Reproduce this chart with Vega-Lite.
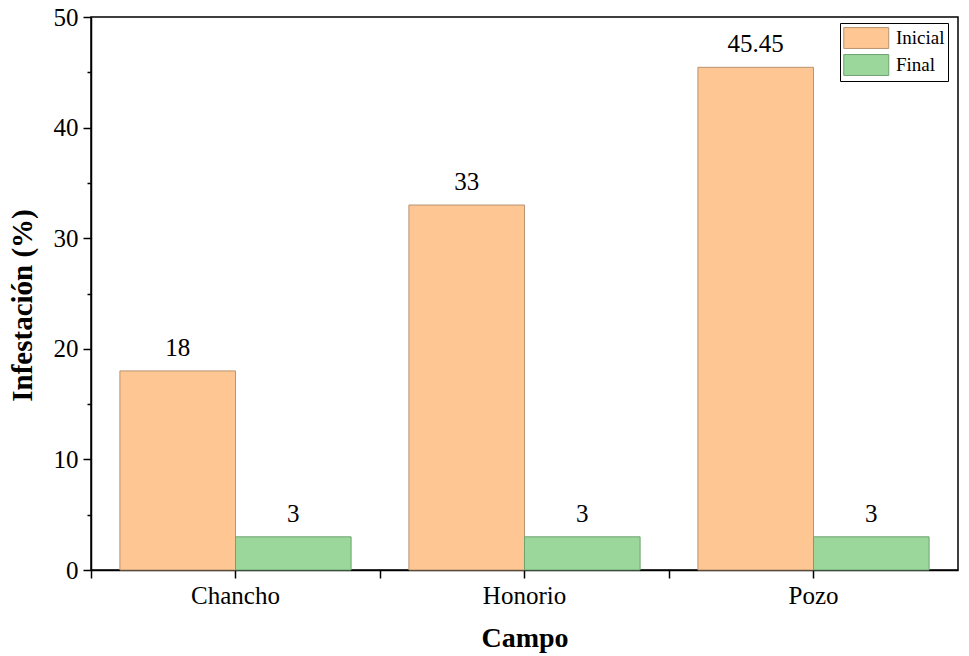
{
  "$schema": "https://vega.github.io/schema/vega-lite/v6.json",
  "autosize": {"type": "none"},
  "width": 867,
  "height": 553,
  "padding": {"left": 91, "top": 17, "right": 11, "bottom": 86},
  "background": "white",
  "config": {
    "font": "Liberation Serif",
    "view": {"stroke": "black", "strokeWidth": 1.5},
    "axis": {
      "domainColor": "black",
      "domainWidth": 1.5,
      "tickColor": "black",
      "tickWidth": 1.5,
      "labelColor": "black",
      "titleColor": "black",
      "labelFont": "Liberation Serif",
      "titleFont": "Liberation Serif",
      "grid": false
    },
    "legend": {"labelFont": "Liberation Serif"}
  },
  "data": {
    "values": [
      {"campo": "Chancho", "etapa": "Inicial", "infestacion": 18, "etiqueta": "18"},
      {"campo": "Chancho", "etapa": "Final", "infestacion": 3, "etiqueta": "3"},
      {"campo": "Honorio", "etapa": "Inicial", "infestacion": 33, "etiqueta": "33"},
      {"campo": "Honorio", "etapa": "Final", "infestacion": 3, "etiqueta": "3"},
      {"campo": "Pozo", "etapa": "Inicial", "infestacion": 45.45, "etiqueta": "45.45"},
      {"campo": "Pozo", "etapa": "Final", "infestacion": 3, "etiqueta": "3"}
    ]
  },
  "encoding": {
    "x": {
      "field": "campo",
      "type": "nominal",
      "sort": ["Chancho", "Honorio", "Pozo"],
      "scale": {"paddingInner": 0, "paddingOuter": 0}
    },
    "xOffset": {
      "field": "etapa",
      "type": "nominal",
      "sort": ["Inicial", "Final"],
      "scale": {"paddingInner": 0, "paddingOuter": 0.25}
    },
    "y": {
      "field": "infestacion",
      "type": "quantitative",
      "scale": {"domain": [0, 50], "nice": false}
    }
  },
  "layer": [
    {
      "mark": {"type": "bar", "strokeWidth": 1},
      "encoding": {
        "x": {
          "field": "campo",
          "type": "nominal",
          "sort": ["Chancho", "Honorio", "Pozo"],
          "axis": {
            "orient": "bottom",
            "title": "Campo",
            "titleFontSize": 28,
            "titleFontWeight": "bold",
            "titlePadding": 16,
            "labelFontSize": 25,
            "labelAngle": 0,
            "labelPadding": 5,
            "tickSize": 8,
            "domain": true
          }
        },
        "y": {
          "field": "infestacion",
          "type": "quantitative",
          "axis": {
            "title": "Infestación (%)",
            "titleFontSize": 29,
            "titleFontWeight": "bold",
            "titlePadding": 16,
            "titleY": 288,
            "labelFontSize": 25,
            "labelPadding": 5,
            "values": [0, 5, 10, 15, 20, 25, 30, 35, 40, 45, 50],
            "labelExpr": "datum.value % 10 === 0 ? datum.label : ''",
            "tickSize": {"expr": "datum.value % 10 === 0 ? 8 : 4"}
          }
        },
        "fill": {
          "field": "etapa",
          "type": "nominal",
          "sort": ["Inicial", "Final"],
          "scale": {"domain": ["Inicial", "Final"], "range": ["#FDC692", "#9BD79B"]},
          "legend": {
            "title": null,
            "orient": "none",
            "legendX": 749,
            "legendY": 6,
            "direction": "vertical",
            "strokeColor": "black",
            "fillColor": "white",
            "padding": 3,
            "rowPadding": 1,
            "symbolType": "M-1,-0.93H3V0.93H-1Z",
            "symbolSize": 506,
            "symbolStrokeWidth": 1,
            "labelFontSize": 19,
            "labelColor": "black",
            "labelOffset": 29
          }
        },
        "stroke": {
          "field": "etapa",
          "type": "nominal",
          "scale": {"domain": ["Inicial", "Final"], "range": ["#B89472", "#6FA370"]},
          "legend": null
        }
      }
    },
    {
      "mark": {"type": "text", "baseline": "alphabetic", "dy": -15, "fontSize": 25, "font": "Liberation Serif", "color": "black"},
      "encoding": {
        "x": {
          "field": "campo",
          "type": "nominal",
          "sort": ["Chancho", "Honorio", "Pozo"],
          "axis": {
            "orient": "bottom",
            "title": null,
            "labels": false,
            "domain": false,
            "bandPosition": 0,
            "tickSize": 8
          }
        },
        "text": {"field": "etiqueta"}
      }
    }
  ],
  "resolve": {"axis": {"x": "independent"}}
}
